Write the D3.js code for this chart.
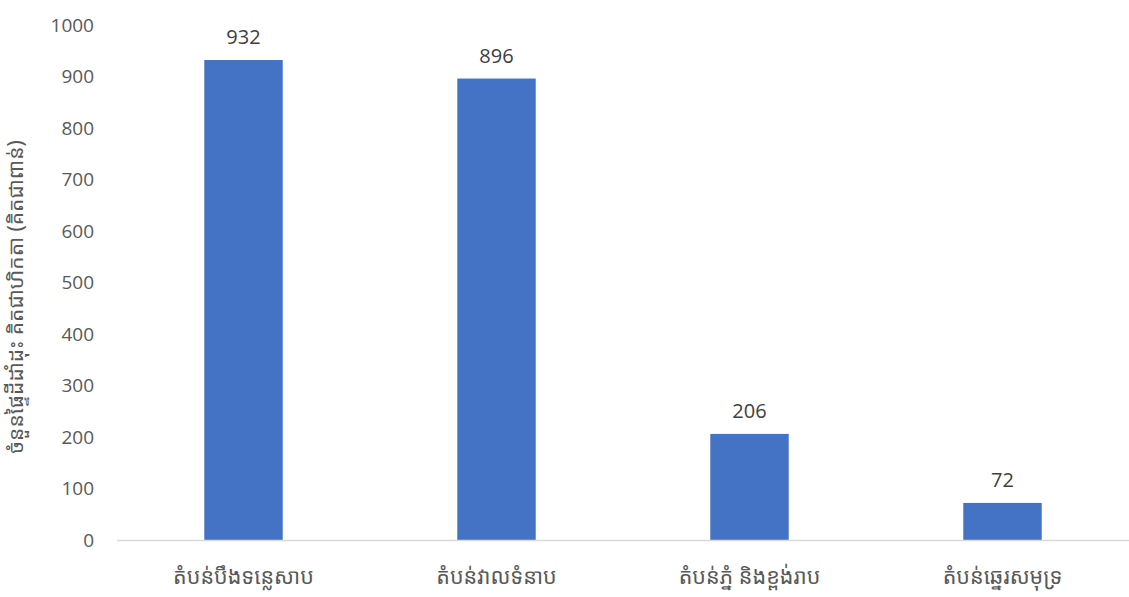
<!DOCTYPE html>
<html>
<head>
<meta charset="utf-8">
<script src="https://cdn.jsdelivr.net/npm/d3@7"></script>
<style>
  body { margin: 0; background: #fff; }
  svg text { font-family: "Noto Sans Khmer", "Khmer OS", "Noto Sans", "Open Sans", sans-serif; fill: #595959; }
</style>
</head>
<body>
<div id="chart"></div>
<script>
var categories = ["តំបន់បឹងទន្លេសាប", "តំបន់វាលទំនាប", "តំបន់ភ្នំ និងខ្ពង់រាប", "តំបន់ឆ្នេរសមុទ្រ"];
var values = [932, 896, 206, 72];
var yTicks = [0, 100, 200, 300, 400, 500, 600, 700, 800, 900, 1000];
var yTitle = "ចំនួនផ្ទៃដីដាំដុះ គិតជាហិកតា (គិតជាពាន់)";

var width = 1129;
var height = 597;
var padding = { top: 25, right: 0, bottom: 57, left: 117 };

var dataset = categories.map(function(c, i) {
    return { name: c, value: values[i] };
});

var xScale = d3.scaleBand()
    .domain(categories)
    .range([padding.left, width - padding.right])
    .paddingInner(0.69)
    .paddingOuter(0.345);

var yScale = d3.scaleLinear()
    .domain([0, 1000])
    .range([height - padding.bottom, padding.top]);

var svg = d3.select('#chart')
    .append('svg')
    .attr('width', width)
    .attr('height', height);

// y tick labels, no axis line
var yAxis = d3.axisLeft(yScale)
    .tickValues(yTicks)
    .tickFormat(d3.format("d"))
    .tickSize(0)
    .tickPadding(0);

var gy = svg.append('g')
    .attr('transform', 'translate(' + 94 + ',0)')
    .call(yAxis);
gy.select('.domain').remove();
gy.selectAll('text')
    .style('font-size', '19px')
    .style('font-family', '"Open Sans", "Noto Sans", sans-serif')
    .style('fill', '#595959');

// bars
svg.append('g')
    .selectAll('rect')
    .data(dataset)
    .enter()
    .append('rect')
    .attr('x', function(d) { return xScale(d.name); })
    .attr('y', function(d) { return yScale(d.value); })
    .attr('width', xScale.bandwidth())
    .attr('height', function(d) { return yScale(0) - yScale(d.value); })
    .attr('fill', '#4472C4');

// baseline
svg.append('line')
    .attr('x1', padding.left).attr('x2', width)
    .attr('y1', yScale(0) + 0.5).attr('y2', yScale(0) + 0.5)
    .attr('stroke', '#d9d9d9')
    .attr('stroke-width', 1.5);

// value labels
svg.append('g')
    .selectAll('text')
    .data(dataset)
    .enter()
    .append('text')
    .attr('x', function(d) { return xScale(d.name) + xScale.bandwidth() / 2; })
    .attr('y', function(d) { return yScale(d.value) - 16; })
    .attr('text-anchor', 'middle')
    .style('font-size', '20px')
    .style('font-family', '"Open Sans", "Noto Sans", sans-serif')
    .style('fill', '#404040')
    .text(function(d) { return d.value; });

// category labels
var xAxis = d3.axisBottom(xScale).tickSize(0).tickPadding(0);
var gx = svg.append('g')
    .attr('transform', 'translate(0,' + (yScale(0) + 44) + ')')
    .call(xAxis);
gx.select('.domain').remove();
gx.selectAll('text')
    .attr('dy', 0)
    .style('font-size', '21.5px')
    .style('fill', '#595959');

// y title
svg.append('text')
    .attr('transform', 'translate(23,' + 297 + ') rotate(-90)')
    .attr('text-anchor', 'middle')
    .style('font-size', '21px')
    .style('fill', '#595959')
    .text(yTitle);
</script>
</body>
</html>
